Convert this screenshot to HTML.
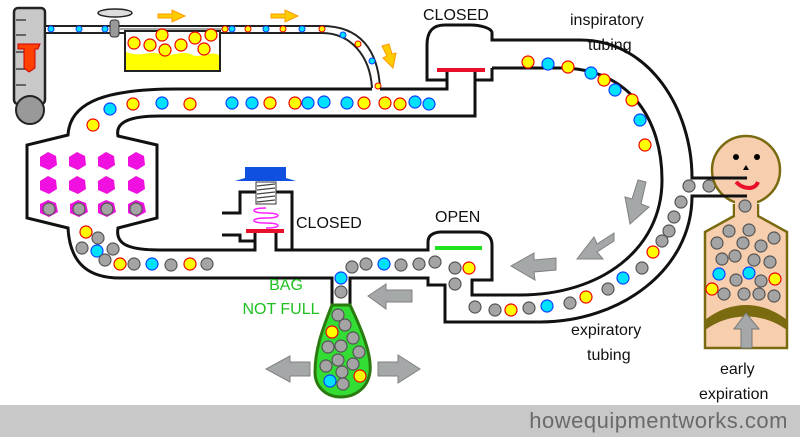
<!DOCTYPE html>
<html><head><style>
html,body{margin:0;padding:0;background:#fff;}
svg{display:block;}
text{font-family:"Liberation Sans",sans-serif;}
</style></head><body>
<svg width="800" height="437" viewBox="0 0 800 437" xmlns="http://www.w3.org/2000/svg">
<defs>
<g id="y"><circle r="6" fill="#ffff00" stroke="#e00" stroke-width="1.2"/></g>
<g id="c"><circle r="6" fill="#00e0ff" stroke="#1040ff" stroke-width="1.2"/></g>
<g id="g"><circle r="6" fill="#a4a4a4" stroke="#555" stroke-width="1.2"/></g>
<g id="ys"><circle r="3" fill="#ffff00" stroke="#e00" stroke-width="1"/></g>
<g id="cs"><circle r="3" fill="#00e0ff" stroke="#1040ff" stroke-width="1"/></g>
</defs>
<rect x="0" y="405" width="800" height="32" fill="#c8c8c8"/>
<text x="788" y="428" font-size="22" fill="#6a6a6a" text-anchor="end" letter-spacing="0.5">howequipmentworks.com</text>

<!-- flowmeter -->
<rect x="14" y="8" width="31" height="96" rx="4" fill="#c8c8c8" stroke="#222" stroke-width="2.5"/>
<g stroke="#222" stroke-width="1.2"><line x1="16" y1="20" x2="26" y2="20"/><line x1="16" y1="35" x2="26" y2="35"/><line x1="16" y1="52" x2="26" y2="52"/><line x1="16" y1="69" x2="26" y2="69"/><line x1="16" y1="85" x2="26" y2="85"/></g>
<polygon points="18,44 40,44 38,49 35,49 35,68 29,72 24,68 24,49 18,49" fill="#ff4000" stroke="#c00"/>
<circle cx="30" cy="110" r="14" fill="#999" stroke="#222" stroke-width="2"/>
<!-- fresh gas tube -->
<path d="M45,26 L322,26 C360,26 378,50 380,88 M45,33 L322,33 C350,33 370,55 372,88" fill="none" stroke="#222" stroke-width="2"/>
<rect x="46" y="27" width="275" height="5" fill="#fff"/>
<line x1="120" y1="29" x2="222" y2="29" stroke="#888" stroke-width="1.5"/>
<ellipse cx="115" cy="13" rx="17" ry="4" fill="#ddd" stroke="#222" stroke-width="1.5"/>
<rect x="110" y="20" width="9" height="17" rx="3" fill="#999" stroke="#333"/>
<!-- vaporizer -->
<rect x="125" y="31" width="95" height="40" fill="#ffff00" stroke="#222" stroke-width="2"/>
<path d="M126,32 L219,32 L219,55 C210,50 200,60 190,54 C180,50 170,58 160,54 C150,50 140,58 126,52 Z" fill="#fff"/>
<g fill="#ffff00" stroke="#e00" stroke-width="1.2"><circle cx="134" cy="43" r="6"/><circle cx="150" cy="45" r="6"/><circle cx="162" cy="35" r="6"/><circle cx="165" cy="50" r="6"/><circle cx="181" cy="45" r="6"/><circle cx="195" cy="38" r="6"/><circle cx="204" cy="49" r="6"/><circle cx="211" cy="35" r="6"/></g>
<g><use href="#cs" x="51" y="29"/><use href="#cs" x="79" y="29"/><use href="#cs" x="105" y="29"/><use href="#ys" x="225" y="29"/><use href="#cs" x="232" y="29"/><use href="#ys" x="248" y="29"/><use href="#cs" x="266" y="29"/><use href="#ys" x="283" y="29"/><use href="#cs" x="302" y="29"/><use href="#ys" x="322" y="29"/><use href="#cs" x="343" y="35"/><use href="#ys" x="358" y="44"/><use href="#cs" x="372" y="61"/><use href="#ys" x="378" y="86"/></g>
<g fill="#ffcc00" stroke="#ff9900"><polygon points="158,14 172,14 172,10 185,16 172,22 172,18 158,18"/><polygon points="271,14 285,14 285,10 298,16 285,22 285,18 271,18"/><polygon points="382,46 389,44 392,54 396,53 393,68 383,58 387,56"/></g>

<!-- main circuit lines -->
<g fill="none" stroke="#111" stroke-width="3">
<path d="M372,89 L177,89 C110,89 70,100 68,135 L27,145 L27,218 L68,228 C70,265 90,278 120,278 L332,278 L332,305"/>
<path d="M380,89 L447,89 L447,70"/>
<path d="M475,70 L475,116 L160,116 C130,116 115,122 118,136 L157,145 L157,218 L118,228 C115,245 130,250 160,250 L255,250 L255,233"/>
<path d="M276,233 L276,250 L428,250 L428,242 C428,238 430,233 440,232 L480,232 C488,233 492,238 492,245 L492,280 L472,280 L472,295 L520,295 C600,295 662,250 662,180 C662,120 630,68 560,68 L492,68"/>
<path d="M350,305 L350,278 L428,278 L428,285 L445,285 L445,322 L540,322 C620,322 692,270 692,196 L745,196"/>
<path d="M745,178 L692,178 C692,110 650,40 580,40 L492,40 L492,33 C492,28 480,25 470,25 L445,25 C432,25 427,32 427,45 L427,80 L447,80"/>
<path d="M475,80 L492,80 L492,68"/>
</g>
<line x1="437" y1="70" x2="485" y2="70" stroke="#e8102a" stroke-width="4"/>
<line x1="435" y1="248" x2="482" y2="248" stroke="#20e020" stroke-width="4"/>

<!-- APL valve -->
<g fill="none" stroke="#111" stroke-width="3"><path d="M222,213 L240,213 L240,192 L292,192 L292,250 L276,250"/><path d="M222,235 L240,235 L240,241 L255,241"/></g>
<line x1="246" y1="231" x2="284" y2="231" stroke="#e8102a" stroke-width="4"/>
<rect x="256" y="182" width="20" height="22" fill="#fff" stroke="#333"/>
<g stroke="#444" stroke-width="1.2"><line x1="257" y1="186" x2="275" y2="184"/><line x1="257" y1="190" x2="275" y2="188"/><line x1="257" y1="194" x2="275" y2="192"/><line x1="257" y1="198" x2="275" y2="196"/><line x1="257" y1="202" x2="275" y2="200"/></g>
<path d="M235,181 L245,178 L245,167 L286,167 L286,178 L296,181 Z" fill="#1050e0"/>
<path d="M266,208 C250,208 250,213 266,213 C282,213 282,218 266,218 C250,218 250,223 266,223 C282,223 282,228 266,228" fill="none" stroke="#ff20ff" stroke-width="1.5"/>

<!-- absorber granules -->
<g fill="#f010e0"><polygon points="48,152 56,156 57,165 49,170 40,166 40,157"/><polygon points="77,152 85,156 86,165 78,170 69,166 69,157"/><polygon points="106,152 114,156 115,165 107,170 98,166 98,157"/><polygon points="136,152 144,156 145,165 137,170 128,166 128,157"/>
<polygon points="48,176 56,180 57,189 49,194 40,190 40,181"/><polygon points="77,176 85,180 86,189 78,194 69,190 69,181"/><polygon points="106,176 114,180 115,189 107,194 98,190 98,181"/><polygon points="136,176 144,180 145,189 137,194 128,190 128,181"/>
<polygon points="48,200 56,203 58,212 49,217 40,213 40,204"/><polygon points="78,200 86,203 88,212 79,217 70,213 70,204"/><polygon points="106,200 114,203 116,212 107,217 98,213 98,204"/><polygon points="136,200 144,203 146,212 137,217 128,213 128,204"/></g>
<g><use href="#g" x="49" y="209"/><use href="#g" x="79" y="209"/><use href="#g" x="107" y="209"/><use href="#g" x="136" y="209"/></g>

<!-- dots -->
<g>
<use href="#y" x="93" y="125"/><use href="#c" x="110" y="109"/><use href="#y" x="133" y="104"/><use href="#c" x="162" y="103"/><use href="#y" x="190" y="104"/>
<use href="#c" x="232" y="103"/><use href="#c" x="252" y="103"/><use href="#y" x="270" y="103"/><use href="#y" x="295" y="103"/><use href="#c" x="308" y="103"/><use href="#c" x="324" y="102"/><use href="#c" x="347" y="103"/><use href="#y" x="364" y="103"/><use href="#y" x="385" y="103"/><use href="#y" x="400" y="104"/><use href="#c" x="415" y="102"/><use href="#c" x="429" y="104"/>
<use href="#y" x="86" y="232"/><use href="#g" x="98" y="238"/><use href="#g" x="82" y="248"/><use href="#c" x="97" y="251"/><use href="#g" x="113" y="249"/><use href="#g" x="105" y="260"/><use href="#y" x="120" y="264"/><use href="#g" x="134" y="264"/><use href="#c" x="152" y="264"/><use href="#g" x="171" y="265"/><use href="#y" x="190" y="264"/><use href="#g" x="207" y="264"/>
<use href="#g" x="352" y="267"/><use href="#g" x="366" y="264"/><use href="#c" x="384" y="264"/><use href="#g" x="401" y="265"/><use href="#g" x="419" y="264"/><use href="#g" x="435" y="262"/><use href="#g" x="455" y="268"/><use href="#y" x="469" y="268"/><use href="#g" x="455" y="284"/>
<use href="#c" x="341" y="278"/><use href="#g" x="341" y="292"/>
<use href="#g" x="475" y="307"/><use href="#g" x="495" y="310"/><use href="#y" x="511" y="310"/><use href="#g" x="529" y="308"/><use href="#c" x="547" y="306"/><use href="#g" x="570" y="303"/><use href="#y" x="586" y="297"/><use href="#g" x="608" y="289"/><use href="#c" x="623" y="278"/><use href="#g" x="642" y="268"/><use href="#y" x="653" y="252"/><use href="#g" x="662" y="241"/><use href="#g" x="669" y="231"/><use href="#g" x="674" y="217"/><use href="#g" x="681" y="202"/><use href="#g" x="689" y="186"/><use href="#g" x="709" y="186"/><use href="#g" x="728" y="186"/>
<use href="#y" x="528" y="62"/><use href="#c" x="548" y="64"/><use href="#y" x="568" y="67"/><use href="#c" x="591" y="73"/><use href="#y" x="604" y="80"/><use href="#y" x="632" y="100"/><use href="#c" x="615" y="90"/><use href="#c" x="640" y="120"/><use href="#y" x="645" y="145"/>
</g>

<!-- patient -->
<path d="M734,204 L734,216 L705,232 L705,348 L787,348 L787,232 L758,216 L758,204" fill="#f8cfae" stroke="#7a6a10" stroke-width="2.5"/>
<circle cx="746" cy="170" r="34" fill="#f8cfae" stroke="#7a6a10" stroke-width="2.5"/>
<rect x="735" y="200" width="22" height="20" fill="#f8cfae"/>
<circle cx="736" cy="157" r="3"/><circle cx="757" cy="157" r="3"/><polygon points="746,165 743,170 749,170"/>
<path d="M736,182 C744,190 755,190 758,182" fill="none" stroke="#e8102a" stroke-width="4"/>
<g stroke="#111" stroke-width="3"><line x1="692" y1="178" x2="747" y2="178"/><line x1="692" y1="196" x2="747" y2="196"/></g>
<path d="M705,320 C730,300 762,300 787,320 L787,330 C762,312 730,312 705,330 Z" fill="#7a6a10"/>
<polygon points="741,348 741,329 734,329 746,313 759,329 752,329 752,348" fill="#a4a8a8" stroke="#777"/>
<g><use href="#g" x="745" y="206"/><use href="#g" x="729" y="231"/><use href="#g" x="749" y="230"/><use href="#g" x="774" y="238"/><use href="#g" x="717" y="243"/><use href="#g" x="743" y="243"/><use href="#g" x="761" y="246"/><use href="#g" x="722" y="259"/><use href="#g" x="735" y="256"/><use href="#g" x="754" y="260"/><use href="#g" x="770" y="262"/><use href="#c" x="719" y="274"/><use href="#c" x="749" y="273"/><use href="#g" x="736" y="280"/><use href="#g" x="761" y="281"/><use href="#y" x="775" y="279"/><use href="#y" x="712" y="289"/><use href="#g" x="724" y="294"/><use href="#g" x="744" y="294"/><use href="#g" x="759" y="294"/><use href="#g" x="774" y="296"/></g>

<!-- bag -->
<path d="M332,305 L350,305 C362,330 372,355 370,372 C368,388 355,397 341,397 C327,397 315,388 315,372 C315,350 322,330 332,305 Z" fill="#33dd33" stroke="#2a7a10" stroke-width="3"/>
<g><use href="#g" x="338" y="315"/><use href="#g" x="345" y="325"/><use href="#y" x="332" y="332"/><use href="#g" x="353" y="338"/><use href="#g" x="328" y="347"/><use href="#g" x="341" y="346"/><use href="#g" x="359" y="352"/><use href="#g" x="338" y="360"/><use href="#g" x="326" y="366"/><use href="#g" x="353" y="364"/><use href="#g" x="342" y="372"/><use href="#y" x="360" y="376"/><use href="#c" x="330" y="381"/><use href="#g" x="343" y="384"/></g>

<!-- big gray arrows -->
<g fill="#a4a8a8" stroke="#808080" stroke-width="1">
<polygon points="412,290 386,290 386,284 368,296 386,309 386,302 412,302"/>
<polygon points="310,362 290,362 290,356 266,369 290,382 290,376 310,376"/>
<polygon points="378,362 398,362 398,355 420,369 398,383 398,376 378,376"/>
<polygon points="556,258 534,260 534,253 511,266 535,280 534,272 556,270"/>
<polygon points="614,233 597,244 594,237 577,259 603,259 597,252 614,241"/>
<polygon points="638,180 632,199 625,197 630,224 649,207 641,204 646,182"/>
</g>

<!-- labels -->
<g font-size="16" fill="#111">
<text x="423" y="20">CLOSED</text>
<text x="570" y="25">inspiratory</text>
<text x="588" y="50">tubing</text>
<text x="296" y="228">CLOSED</text>
<text x="435" y="222">OPEN</text>
<text x="571" y="335">expiratory</text>
<text x="587" y="360">tubing</text>
<text x="720" y="374">early</text>
<text x="699" y="399">expiration</text>
</g>
<g font-size="16" fill="#20c020" text-anchor="middle"><text x="286" y="290">BAG</text><text x="281" y="314">NOT FULL</text></g>
</svg>
</body></html>
